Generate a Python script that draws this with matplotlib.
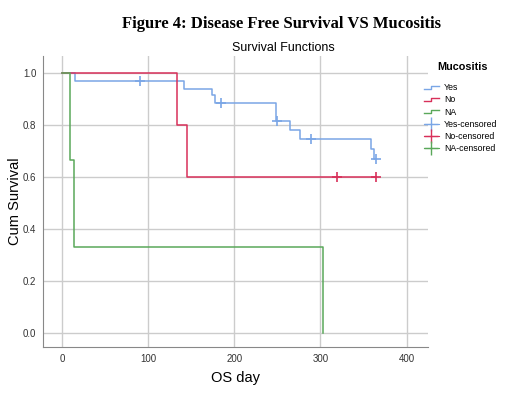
import matplotlib
matplotlib.use('Agg')
import matplotlib.pyplot as plt
from matplotlib.lines import Line2D
from matplotlib.legend_handler import HandlerBase

plt.rcParams['font.family'] = ['Liberation Sans', 'DejaVu Sans']

# Survival curves (days, cumulative survival)
yes_times = [0, 15, 141, 174, 177, 248, 265, 276, 359, 362, 364]
yes_surv = [1.0, 0.97, 0.94, 0.915, 0.885, 0.815, 0.78, 0.745, 0.71, 0.67, 0.67]
yes_cens_t = [90, 185, 250, 289, 364]
yes_cens_s = [0.97, 0.885, 0.815, 0.745, 0.67]

no_times = [0, 133, 145, 364]
no_surv = [1.0, 0.8, 0.6, 0.6]
no_cens_t = [319, 364]
no_cens_s = [0.6, 0.6]

na_times = [0, 9, 14, 303]
na_surv = [1.0, 0.667, 0.333, 0.0]

groups = ['Yes', 'No', 'NA']
colors = ['#7aa6e6', '#d8305a', '#5aa85a']

xticks = [0, 100, 200, 300, 400]
yticks = [0.0, 0.2, 0.4, 0.6, 0.8, 1.0]


class StepHandler(HandlerBase):
    # little step icon like the SPSS legend
    def create_artists(self, legend, orig, xd, yd, w, h, fontsize, trans):
        x = [xd, xd + w * 0.5, xd + w * 0.5, xd + w]
        y = [yd + h * 0.2, yd + h * 0.2, yd + h * 0.75, yd + h * 0.75]
        ln = Line2D(x, y, color=orig.get_color(), lw=1, transform=trans)
        return [ln]


fig = plt.figure(figsize=(5.22, 3.93), dpi=100)
ax = fig.add_axes([0.083, 0.117, 0.737, 0.74])

ax.step(yes_times, yes_surv, where='post', color=colors[0], lw=1.1)
ax.step(no_times, no_surv, where='post', color=colors[1], lw=1.1)
ax.step(na_times, na_surv, where='post', color=colors[2], lw=1.1)
ax.plot(yes_cens_t, yes_cens_s, '+', color=colors[0], ms=7, mew=1.2)
ax.plot(no_cens_t, no_cens_s, '+', color=colors[1], ms=7, mew=1.2)

ax.set_xlim(-22, 425)
ax.set_ylim(-0.053, 1.065)
ax.set_xticks(xticks)
ax.set_yticks(yticks)
ax.set_yticklabels(['%.1f' % v for v in yticks])
ax.grid(True, color='#cccccc', lw=1)
ax.set_axisbelow(True)
for s in ['top', 'right']:
    ax.spines[s].set_visible(False)
for s in ['left', 'bottom']:
    ax.spines[s].set_color('#888888')
ax.tick_params(length=0, labelsize=7, colors='#333333', pad=5)

ax.set_xlabel('OS day', fontsize=10.5)
ax.set_ylabel('Cum Survival', fontsize=10.5)
ax.xaxis.set_label_coords(0.5, -0.084)
ax.yaxis.set_label_coords(-0.055, 0.5)

fig.text(0.542, 0.878, 'Survival Functions', ha='center', va='center', fontsize=9)
fig.text(0.54, 0.938, 'Figure 4: Disease Free Survival VS Mucositis',
         ha='center', va='center', fontsize=12, fontweight='bold',
         family='Liberation Serif')
fig.text(463 / 522, 1 - 67 / 393, 'Mucositis', ha='center', va='center',
         fontsize=7.8, fontweight='bold')

handles = [Line2D([], [], color=c) for c in colors]
handles += [Line2D([], [], color=c, marker='+', ms=10, mew=1, lw=0.8) for c in colors]
labels = groups + [g + '-censored' for g in groups]
hmap = {h: StepHandler() for h in handles[:3]}
leg = fig.legend(handles, labels, loc='upper left', bbox_to_anchor=(0.797, 0.808),
                 frameon=False, fontsize=6.3,
                 handlelength=1.7, handletextpad=0.6, labelspacing=0.36,
                 handler_map=hmap)

fig.savefig('out.png', dpi=100)
